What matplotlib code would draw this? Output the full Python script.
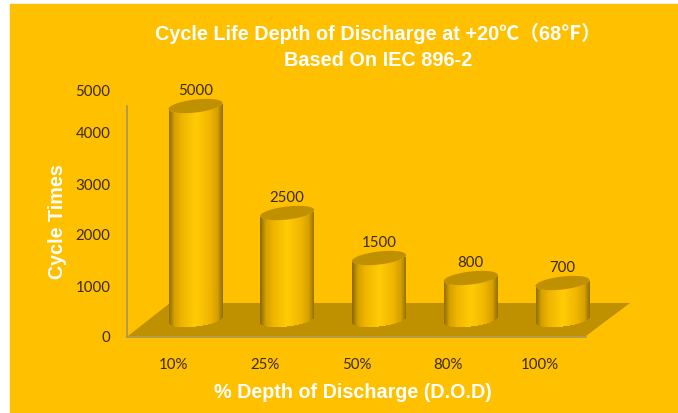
import matplotlib
matplotlib.use('Agg')
import matplotlib.pyplot as plt
from matplotlib.colors import LinearSegmentedColormap
from matplotlib.patches import Polygon, Rectangle
import numpy as np

categories = ['10%', '25%', '50%', '80%', '100%']
cycles = [5000, 2500, 1500, 800, 700]
y_ticks = [0, 1000, 2000, 3000, 4000, 4843]
y_labels = ['0', '1000', '2000', '3000', '4000', '5000']

W, H = 678, 413
BG = '#FFC000'
FLOOR = '#BF9000'
AXIS = '#A8955A'
DARK = '#3A2C08'

# the picture's 3d scale is not linear, so bar heights go through a function scale
scale_v = [-4000, 0, 700, 800, 1500, 2500, 5000, 9000]
scale_px = [-200, 0, 37, 42, 62, 107, 214, 400]

def forward(v):
    return np.interp(v, scale_v, scale_px)

def inverse(p):
    return np.interp(p, scale_px, scale_v)

fig = plt.figure(figsize=(W / 100, H / 100), dpi=100, facecolor='white')
fig.patches.append(Rectangle((10 / W, 0), 1, 1 - 4 / H, transform=fig.transFigure, color=BG, zorder=-10))

# front frame: ticks, labels, spines
front = fig.add_axes([127 / W, (H - 337) / H, 459 / W, 255 / H])
front.patch.set_alpha(0)
front.set_xlim((127 - 173) / 91.75, (586 - 173) / 91.75)
front.set_ylim(0, 5000)
front.set_xticks(range(len(categories)), categories)
front.set_yticks(y_ticks, y_labels)
front.tick_params(length=0, labelsize=10.8, labelcolor=DARK, labelfontfamily='Lato')
front.tick_params(axis='x', pad=15)
front.tick_params(axis='y', pad=12)
front.spines[['top', 'right']].set_visible(False)
front.spines[['left', 'bottom']].set_color(AXIS)
front.spines[['left', 'bottom']].set_linewidth(1.2)
front.spines['left'].set_bounds(0, 4530)
front.set_xlabel('% Depth of Discharge (D.O.D)', color='white', fontsize=14.2, fontweight='bold',
                 family='Liberation Sans')
front.xaxis.set_label_coords((353 - 127) / 459, -(383 - 337) / 255, transform=front.transAxes)
front.set_ylabel('Cycle Times', color='white', fontsize=14.2, fontweight='bold', family='Liberation Sans')
front.yaxis.set_label_coords(-(127 - 67) / 459, (337 - 222) / 255, transform=front.transAxes)
front.set_zorder(1)

# bars live on a full figure axes, base of the cylinders 320 px down
ax = fig.add_axes([0, 0, 1, 1])
ax.set_yscale('function', functions=(forward, inverse))
ax.set_xlim(-195.5 / 91.75, (W - 195.5) / 91.75)
ax.set_ylim(inverse(320 - H), inverse(320))
ax.axis('off')
ax.set_zorder(2)

def to_axes(px, py):
    return (px / W, 1 - py / H)

ax.add_patch(Polygon([to_axes(128, 336), to_axes(586, 336), to_axes(630, 303), to_axes(170, 303)],
                     closed=True, transform=ax.transAxes, facecolor=FLOOR, edgecolor='none', zorder=1))

shade = LinearSegmentedColormap.from_list('cyl', [(0, '#8F6C00'), (0.1, '#D5A000'), (0.25, '#F0B600'),
                                                  (0.5, '#FFCB05'), (0.75, '#F0B600'), (0.9, '#D5A000'),
                                                  (1, '#8F6C00')])
half_w = 27.0  # px
half_h = 6.5
tilt = 3.0
unit = 91.75

for i, (name, v) in enumerate(zip(categories, cycles)):
    top_px = forward(v)
    # lit side, one thin strip per half pixel
    u = np.linspace(-1, 1, 109)
    cols = shade((u + 1) / 2)
    for j in range(len(u) - 1):
        um = (u[j] + u[j + 1]) / 2
        low = -half_h * np.sqrt(1 - um ** 2) + tilt * um
        x0 = i + u[j] * half_w / unit
        x1 = i + u[j + 1] * half_w / unit + 0.002
        ax.fill_between([x0, x1], inverse(low), inverse(top_px + low),
                        color=cols[j], linewidth=0, zorder=3)
    # top cap
    t = np.linspace(0, 2 * np.pi, 80)
    cx = i + half_w * np.cos(t) / unit
    cy = inverse(top_px + half_h * np.sin(t) + tilt * np.cos(t))
    ax.fill(cx, cy, color=FLOOR, linewidth=0, zorder=4)
    ax.annotate(str(v), (i, v), xytext=(0, 6), textcoords='offset points', ha='center', va='bottom',
                fontsize=10.8, color=DARK, family='Lato', zorder=5)

fig.text(378 / W, 1 - 33.5 / H, 'Cycle Life Depth of Discharge at +20℃（68℉）', color='white', fontsize=14.3,
         fontweight='bold', family=['Liberation Sans', 'Noto Sans CJK SC'], ha='center', va='center', zorder=6)
fig.text(378 / W, 1 - 60 / H, 'Based On IEC 896-2', color='white', fontsize=14.3,
         fontweight='bold', family=['Liberation Sans', 'Noto Sans CJK SC'], ha='center', va='center', zorder=6)

fig.savefig('out.png', dpi=100, facecolor=fig.get_facecolor())
